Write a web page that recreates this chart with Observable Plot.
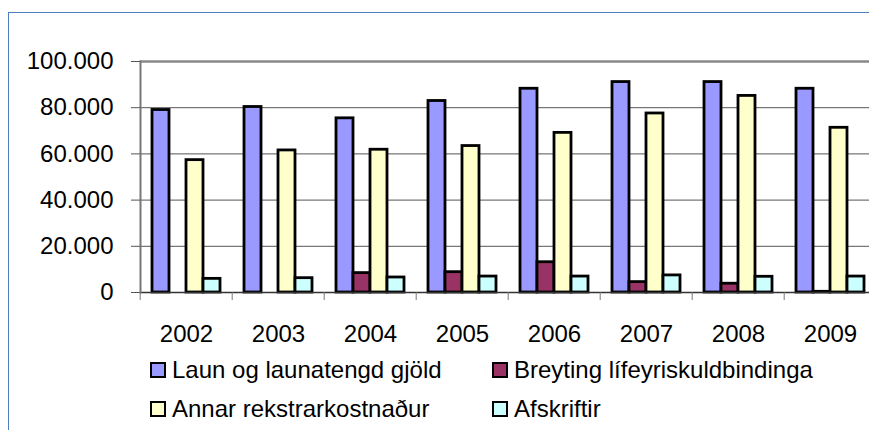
<!DOCTYPE html>
<html>
<head>
<meta charset="utf-8">
<script src="https://cdn.jsdelivr.net/npm/d3@7"></script>
<script src="https://cdn.jsdelivr.net/npm/@observablehq/plot@0.6"></script>
<style>
  html, body { margin: 0; padding: 0; background: #fff; }
  body { width: 869px; height: 430px; overflow: hidden; position: relative;
         font-family: "Liberation Sans", Arial, sans-serif; }
  #border { position: absolute; left: 8px; top: 12px; width: 1000px; height: 1000px;
            border-left: 1.5px solid #4a7fc1; border-top: 1.5px solid #4a7fc1; }
  #chart { position: absolute; left: 0; top: 0; }
  #legend { position: absolute; left: 150px; top: 350px; display: grid;
            grid-template-columns: 342px auto; font-size: 24px; color: #000; }
  .item { display: flex; align-items: center; height: 39px; line-height: 39px; white-space: nowrap; }
  .sw { width: 16px; height: 16px; box-sizing: border-box; border: 2.5px solid #000; margin-right: 6px; }
</style>
</head>
<body>
<div id="border"></div>
<div id="chart"></div>
<div id="legend"></div>
<script>
const years = ["2002", "2003", "2004", "2005", "2006", "2007", "2008", "2009"];
const seriesNames = ["Laun og launatengd gjöld", "Breyting lífeyriskuldbindinga", "Annar rekstrarkostnaður", "Afskriftir"];
const laun      = [79000, 80300, 75400, 82900, 88200, 91100, 91100, 88200];
const breyting  = [null, null, 8400, 8800, 13100, 4500, 3800, 300];
const annar     = [57300, 61500, 61800, 63400, 69100, 77500, 85100, 71300];
const afskriftir = [5900, 6200, 6500, 6900, 6900, 7400, 6800, 6900];
const colors = ["#9999FF", "#993366", "#FFFFCC", "#CCFFFF"];
const yTicks = [0, 20000, 40000, 60000, 80000, 100000];

const seriesValues = [laun, breyting, annar, afskriftir];
const rows = [];
years.forEach((year, i) => {
  seriesNames.forEach((s, j) => {
    const v = seriesValues[j][i];
    if (v != null) rows.push({year, series: s, value: v});
  });
});

const locale = d3.formatLocale({decimal: ",", thousands: ".", grouping: [3], currency: ["", ""]});
const fmt = locale.format(",");

const W = 869, H = 352;
const mL = 137, mR = -9, mT = 61, mB = 60;
const step = (W - mL - mR) / years.length;

const chart = Plot.plot({
  width: W, height: H,
  marginLeft: mL, marginRight: mR, marginTop: mT, marginBottom: mB,
  style: {fontFamily: '"Liberation Sans", Arial, sans-serif', fontSize: "24px", color: "#000", background: "transparent"},
  fx: {domain: years, padding: 0, label: null},
  x: {domain: seriesNames, paddingInner: 0, paddingOuter: 0.6875, axis: null},
  y: {domain: [0, 100000], axis: null, label: null},
  color: {domain: seriesNames, range: colors},
  marks: [
    Plot.gridY(yTicks, {stroke: "#555", strokeOpacity: 1, strokeWidth: 1}),
    Plot.ruleY([100000], {stroke: "#888", strokeWidth: 2.5}),
    Plot.barY(rows, {fx: "year", x: "series", y: "value", fill: "series", stroke: "#000", strokeWidth: 2.8, inset: 0}),
    Plot.ruleY([0], {stroke: "#333", strokeWidth: 1.5}),
    Plot.frame({anchor: "left", facetAnchor: "left", stroke: "#777", strokeWidth: 2}),
    Plot.axisY(yTicks, {anchor: "left", tickSize: 9, tickPadding: 18, tickFormat: fmt, stroke: "#555", fontSize: 24, label: null}),
    Plot.axisFx({anchor: "bottom", tickSize: 0, tickPadding: 32, fontSize: 24, label: null}),
    Plot.axisFx({anchor: "bottom", tickSize: 8, tickFormat: () => "", dx: -step / 2, stroke: "#777", label: null})
  ]
});
document.getElementById("chart").appendChild(chart);

const legend = document.getElementById("legend");
seriesNames.forEach((s, j) => {
  const item = document.createElement("div");
  item.className = "item";
  const sw = document.createElement("span");
  sw.className = "sw";
  sw.style.background = colors[j];
  const t = document.createElement("span");
  t.textContent = s;
  item.appendChild(sw);
  item.appendChild(t);
  legend.appendChild(item);
});
</script>
</body>
</html>
